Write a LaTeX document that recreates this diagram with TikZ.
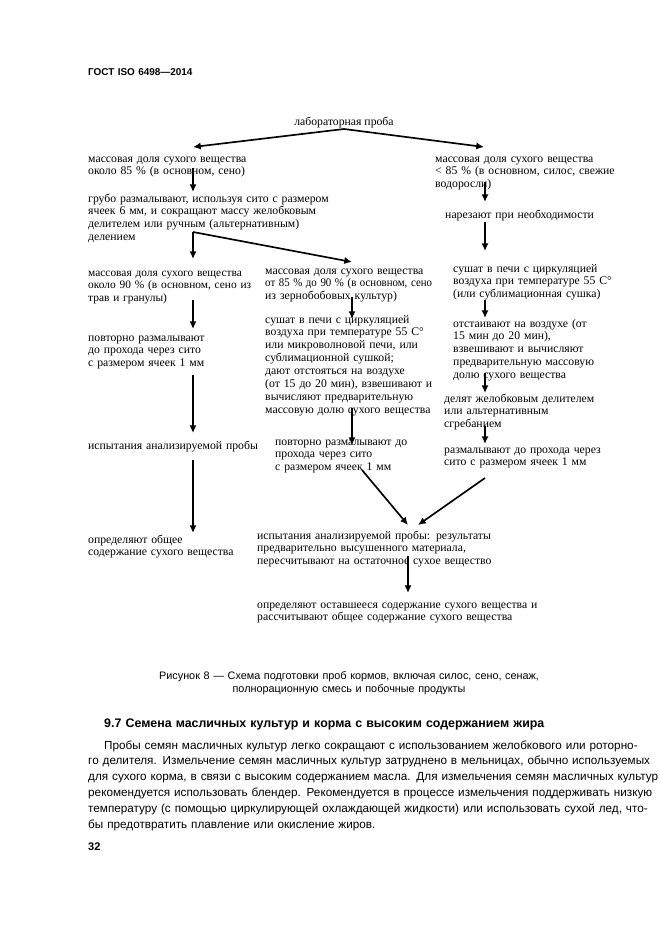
\documentclass[tikz,border=0pt]{standalone}
\usepackage{fontspec}
\usepackage{graphicx}
\setmainfont{Liberation Serif}
\newfontfamily\arialfont{Liberation Sans}
\usetikzlibrary{positioning, arrows.meta}
\newlength\pxu
\setlength\pxu{0.3177mm}

\begin{document}
\begin{tikzpicture}[x=\pxu, y=-\pxu,
  font={\fontsize{10.6}{11.7}\selectfont},
  every node/.style={inner sep=0pt},
  txt/.style={anchor=base west, align=left, text width=300\pxu},
  sans/.style={font={\arialfont\fontsize{10.6}{14.4}\selectfont}},
  flow/.style={-{Latex[length=7pt,width=6.5pt]}, line width=1.5pt},
]
  \useasboundingbox[fill=white] (0,0) rectangle (661,935);

  \node[txt, font={\arialfont\bfseries\fontsize{9}{11}\selectfont}] (head) at (88,76) {ГОСТ ISO 6498—2014};

  \node[anchor=base] (lab) at (344,126) {лабораторная проба};
  \node[txt] (a1) at (88,162) {массовая доля сухого вещества\\около 85 \% (в основном, сено)};
  \node[txt] (a2) at (88,202) {грубо размалывают, используя сито с размером\\ячеек 6 мм, и сокращают массу желобковым\\делителем или ручным (альтернативным)\\делением};
  \node[txt, font={\fontsize{10.3}{11.7}\selectfont}] (b1) at (88,276) {\makebox[163\pxu][s]{массовая доля сухого вещества}\\\makebox[163\pxu][s]{около 90 \% (в основном, сено из}\\трав и гранулы)};
  \node[txt] (b2) at (265,274) {массовая доля сухого вещества\\\scalebox{0.925}[1]{от 85 \% до 90 \% (в основном, сено}\\из зернобобовых культур)};
  \node[txt] (b3) at (265,323) {сушат в печи с циркуляцией\\воздуха при температуре 55 С°\\или микроволновой печи, или\\сублимационной сушкой;\\дают отстояться на воздухе\\(от 15 до 20 мин), взвешивают и\\вычисляют предварительную\\массовую долю сухого вещества};
  \node[txt] (b4) at (275,445) {повторно размалывают до\\прохода через сито\\с размером ячеек 1 мм};
  \node[txt] (l2) at (88,341) {повторно размалывают\\до прохода через сито\\с размером ячеек 1 мм};
  \node[txt] (l3) at (88,449) {испытания анализируемой пробы};
  \node[txt] (l4) at (88,543) {определяют общее\\содержание сухого вещества};
  \node[txt] (c1) at (435,162) {массовая доля сухого вещества\\< 85 \% (в основном, силос, свежие\\водоросли)};
  \node[txt] (c2) at (445,218) {нарезают при необходимости};
  \node[txt] (c3) at (453,272) {сушат в печи с циркуляцией\\воздуха при температуре 55 С°\\(или сублимационная сушка)};
  \node[txt] (c4) at (453,327) {отстаивают на воздухе (от\\15 мин до 20 мин),\\взвешивают и вычисляют\\предварительную массовую\\долю сухого вещества};
  \node[txt] (c5) at (444,402) {делят желобковым делителем\\или альтернативным\\сгребанием};
  \node[txt] (c6) at (444,453) {размалывают до прохода через\\сито с размером ячеек 1 мм};
  \node[txt] (d1) at (257,539) {испытания анализируемой пробы: результаты\\предварительно высушенного материала,\\пересчитывают на остаточное сухое вещество};
  \node[txt] (d2) at (257,608) {определяют оставшееся содержание сухого вещества и\\рассчитывают общее содержание сухого вещества};

  \coordinate (lab-out) at (344,129);
  \coordinate (a1-in) at (193,147);
  \coordinate (c1-in) at (484,147);
  \coordinate (a1-out) at (193,168);
  \coordinate (a2-in) at (193,192);
  \coordinate (a2-out) at (193,232);
  \coordinate (b1-in) at (193,259);
  \coordinate (b2-in) at (352,262);
  \coordinate (b1-out) at (193,300);
  \coordinate (l2-in) at (193,329);
  \coordinate (l2-out) at (193,375);
  \coordinate (l3-in) at (193,433);
  \coordinate (l3-out) at (193,460);
  \coordinate (l4-in) at (193,533);
  \coordinate (b2-out) at (352,297);
  \coordinate (b3-in) at (352,319);
  \coordinate (b3-out) at (352,408);
  \coordinate (b4-in) at (352,445);
  \coordinate (b4-out) at (362,470);
  \coordinate (d1-in) at (408,525);
  \coordinate (c1-out) at (485,182);
  \coordinate (c2-in) at (485,202);
  \coordinate (c2-out) at (485,222);
  \coordinate (c3-in) at (485,251);
  \coordinate (c3-out) at (485,300);
  \coordinate (c4-in) at (485,318);
  \coordinate (c4-out) at (485,373);
  \coordinate (c5-in) at (485,393);
  \coordinate (c5-out) at (485,426);
  \coordinate (c6-in) at (485,444);
  \coordinate (c6-out) at (485,478);
  \coordinate (d1-in2) at (418,525);
  \coordinate (d1-out) at (408,556);
  \coordinate (d2-in) at (408,593);

  \draw[flow] (lab-out) -- (a1-in);
  \draw[flow] (lab-out) -- (c1-in);
  \draw[flow] (a1-out) -- (a2-in);
  \draw[flow] (a2-out) -- (b1-in);
  \draw[flow] (a2-out) -- (b2-in);
  \draw[flow] (b1-out) -- (l2-in);
  \draw[flow] (l2-out) -- (l3-in);
  \draw[flow] (l3-out) -- (l4-in);
  \draw[flow] (b2-out) -- (b3-in);
  \draw[flow] (b3-out) -- (b4-in);
  \draw[flow] (b4-out) -- (d1-in);
  \draw[flow] (c1-out) -- (c2-in);
  \draw[flow] (c2-out) -- (c3-in);
  \draw[flow] (c3-out) -- (c4-in);
  \draw[flow] (c4-out) -- (c5-in);
  \draw[flow] (c5-out) -- (c6-in);
  \draw[flow] (c6-out) -- (d1-in2);
  \draw[flow] (d1-out) -- (d2-in);

  \node[anchor=base, align=center, text width=526\pxu, font={\arialfont\fontsize{9.8}{12.5}\selectfont}] (cap) at (349,679) {Рисунок 8 — Схема подготовки проб кормов, включая силос, сено, сенаж,\\полнорационную смесь и побочные продукты};
  \node[txt, text width=556\pxu, font={\arialfont\bfseries\fontsize{11.2}{14.4}\selectfont}] (sec) at (104,727) {9.7 Семена масличных культур и корма с высоким содержанием жира};
  \node[txt, sans, text width=556\pxu] (par) at (88,749) {\hspace*{16\pxu}\makebox[539\pxu][s]{Пробы семян масличных культур легко сокращают с использованием желобкового или роторно-}\\\makebox[555\pxu][s]{го делителя. Измельчение семян масличных культур затруднено в мельницах, обычно используемых}\\\makebox[555\pxu][s]{для сухого корма, в связи с высоким содержанием масла. Для измельчения семян масличных культур}\\\makebox[555\pxu][s]{рекомендуется использовать блендер. Рекомендуется в процессе измельчения поддерживать низкую}\\\makebox[555\pxu][s]{температуру (с помощью циркулирующей охлаждающей жидкости) или использовать сухой лед, что-}\\бы предотвратить плавление или окисление жиров.};
  \node[txt, font={\arialfont\bfseries\fontsize{10}{12.5}\selectfont}] (pg) at (88,850) {32};
\end{tikzpicture}
\end{document}
